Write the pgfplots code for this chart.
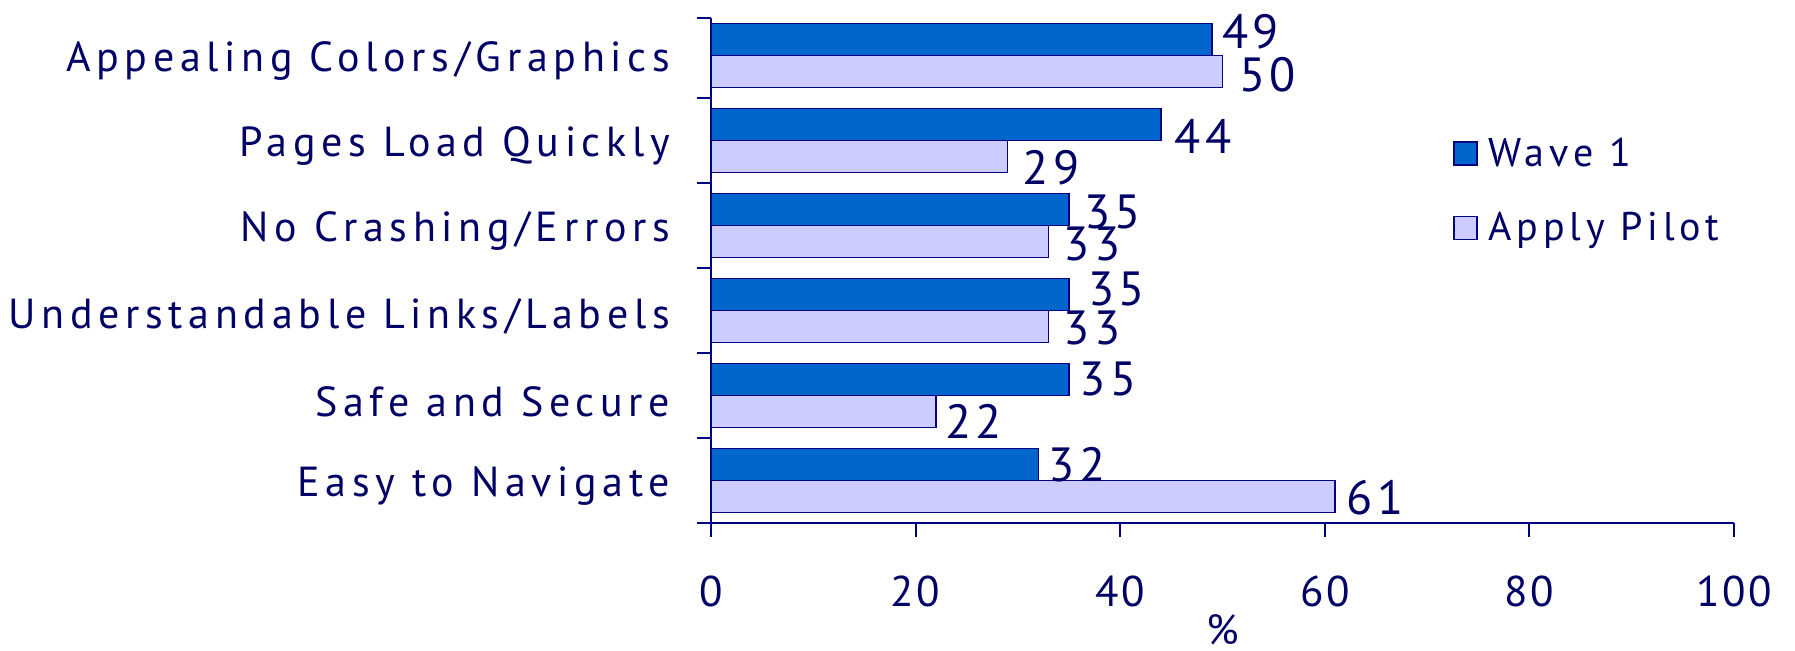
\documentclass[border=0pt]{standalone}
\usepackage{pgfplots}
\pgfplotsset{compat=1.18}
\usepackage{fontspec}
\setmainfont[LetterSpace=13.5]{PT Sans}
\newfontfamily\numfont[LetterSpace=6]{PT Sans}
\newfontfamily\legfont[LetterSpace=12]{PT Sans}
\newfontfamily\datafont[LetterSpace=9]{PT Sans}
\definecolor{navytxt}{RGB}{0,0,102}
\definecolor{waveone}{RGB}{0,102,204}
\definecolor{pilot}{RGB}{204,204,255}
\definecolor{edgec}{RGB}{0,0,128}
\newcommand\lab{\fontsize{21}{25}\selectfont}
\newcommand\leglab{\legfont\fontsize{20}{24}\selectfont}
\newcommand\numlab{\numfont\fontsize{21.5}{25}\selectfont}
\newcommand\datlab{\datafont\fontsize{24}{27}\selectfont}
\pgfplotstableread{
c v dx up
0 32 4.9 0
1 35 5.0 0
2 35 9.2 2.5
3 35 7.2 -1.1
4 44 6.4 -5.8
5 49 4.5 3.7
}\waveone
\pgfplotstableread{
c v dx up
0 61 5.4 -0.8
1 22 4.2 -5.2
2 33 7.2 -0.75
3 33 7.2 -1.3
4 29 7.2 -5.8
5 50 8.0 -1.4
}\pilot
\begin{document}
\begin{tikzpicture}
\begin{axis}[
  at={(0,0)}, anchor=south west,
  scale only axis, width=511.5pt, height=252.5pt,
  xbar, bar width=16pt,
  xmin=0, xmax=100, ymin=-0.5, ymax=5.44,
  axis lines*=left,
  axis line style={edgec, line width=1pt},
  every tick/.style={edgec, line width=1pt},
  tick align=outside, major tick length=7pt,
  xtick={0,20,...,100},
  ytick={0,...,5},
  ytick style={draw=none},
  yticklabels={Easy to Navigate, Safe and Secure, Understandable Links/Labels, No Crashing/Errors, Pages Load Quickly, Appealing Colors/Graphics},
  extra y ticks={-0.5,0.5,1.5,2.5,3.5,4.5,5.44},
  extra y tick labels={},
  extra y tick style={ytick style={draw=edgec, line width=1pt}},
  yticklabel style={xshift=-10pt, yshift=-3pt, font=\lab, text=navytxt},
  xticklabel style={yshift=-16pt, font=\numlab, text=navytxt},
  /pgf/number format/assume math mode=true,
  xlabel={\%},
  xlabel style={font=\lab, text=navytxt, yshift=3pt},
  nodes near coords,
  every node near coord/.append style={font=\datlab, text=navytxt, anchor=west, inner sep=0pt},
  legend style={at={(0.725,0.658)}, anchor=west, draw=none, fill=none, inner sep=0pt,
    font=\leglab, text=navytxt, row sep=17.5pt},
  legend cell align=left,
  legend image code/.code={\draw[#1] (0pt,-5.8pt) rectangle (11.7pt,5.8pt); \path (15pt,0pt);},
  clip=false,
]
\addplot[fill=waveone, draw=edgec, line width=0.8pt, bar shift=8pt,
  visualization depends on={\thisrow{dx} \as \dx},
  visualization depends on={\thisrow{up} \as \up},
  every node near coord/.append style={xshift=\dx pt, yshift=\up pt}]
  table[x=v, y=c] {\waveone};
\addplot[fill=pilot, draw=edgec, line width=0.8pt, bar shift=-8pt,
  visualization depends on={\thisrow{dx} \as \dx},
  visualization depends on={\thisrow{up} \as \up},
  every node near coord/.append style={xshift=\dx pt, yshift=\up pt}]
  table[x=v, y=c] {\pilot};
\legend{Wave 1, Apply Pilot}
\end{axis}
\pgfresetboundingbox
\path[use as bounding box] (-355.5pt,-63.5pt) rectangle (542pt,261.5pt);
\end{tikzpicture}
\end{document}
